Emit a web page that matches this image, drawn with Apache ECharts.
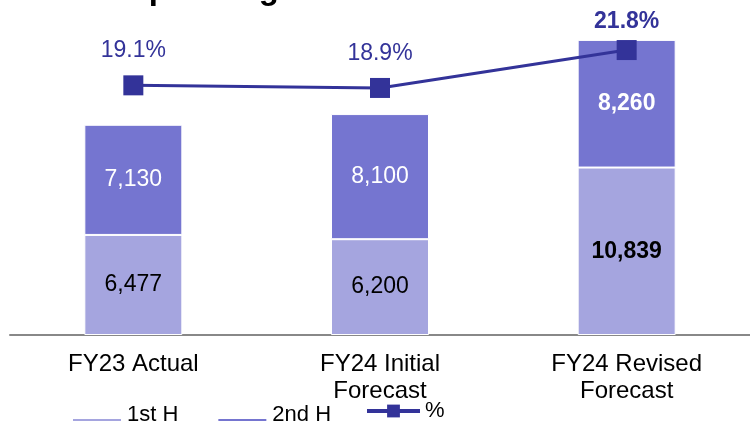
<!DOCTYPE html>
<html>
<head>
<meta charset="utf-8">
<style>
  html, body { margin: 0; padding: 0; background: #fff; }
  #chart { width: 750px; height: 421px; }
</style>
<script src="https://cdn.jsdelivr.net/npm/echarts@6/dist/echarts.min.js"></script>
</head>
<body>
<div id="chart"></div>
<script>
// Operating profit by half-year with margin (%)
const categories = ['FY23 Actual', 'FY24 Initial\nForecast', 'FY24 Revised\nForecast'];
const firstHalf = [6477, 6200, 10839];
const secondHalf = [7130, 8100, 8260];
const margin = [19.1, 18.9, 21.8];
const boldLast = [false, false, true];

const FONT = "'Liberation Sans', Arial, sans-serif";
const C_H1 = '#A5A5DF';
const C_H2 = '#7575D0';
const C_LINE = '#333399';

// swatch drawn in the lower part of its legend box (tiny top mark keeps the box height)
const LOW_SWATCH = 'path://M0 0h0.5v0.01h-0.5zM0 16h50v10h-50z';

const chart = echarts.init(document.getElementById('chart'), null, { renderer: 'canvas' });

chart.setOption({
  animation: false,
  textStyle: { fontFamily: FONT },
  graphic: [{
    type: 'text',
    left: 123,
    top: -27,
    style: {
      text: 'Operating Profit',
      font: "bold 33px 'Liberation Sans', Arial, sans-serif",
      fill: '#000'
    }
  }],
  grid: { left: 10, right: -4, top: 26, bottom: 86, containLabel: false },
  legend: [
    {
      left: 71,
      top: 401,
      padding: 0,
      itemWidth: 50,
      itemHeight: 26,
      itemGap: 38,
      icon: LOW_SWATCH,
      textStyle: { fontSize: 22, color: '#000', fontFamily: FONT },
      data: ['1st H', '2nd H']
    },
    {
      left: 365,
      top: 400,
      padding: 0,
      itemWidth: 53,
      itemHeight: 16,
      lineStyle: { width: 4 },
      textStyle: { fontSize: 22, color: '#000', fontFamily: FONT },
      data: ['%']
    }
  ],
  xAxis: {
    type: 'category',
    data: categories,
    axisLine: { lineStyle: { color: '#888888', width: 2 } },
    axisTick: { show: false },
    axisLabel: {
      fontSize: 24, color: '#000', lineHeight: 27, margin: 16, fontFamily: FONT,
      interval: 0
    }
  },
  yAxis: [
    { type: 'value', min: 0, max: 20000, show: false },
    { type: 'value', min: 0, max: 23.64, show: false }
  ],
  series: [
    {
      name: '1st H',
      type: 'bar',
      stack: 'op',
      barWidth: 98,
      itemStyle: { color: C_H1, borderColor: '#fff', borderWidth: 1 },
      label: {
        show: true, position: 'inside', fontSize: 23, color: '#000', fontFamily: FONT,
        formatter: p => p.value.toLocaleString('en-US')
      },
      data: firstHalf.map((v, i) => ({
        value: v,
        label: { fontWeight: boldLast[i] ? 'bold' : 'normal' }
      }))
    },
    {
      name: '2nd H',
      type: 'bar',
      stack: 'op',
      barWidth: 98,
      itemStyle: { color: C_H2, borderColor: '#fff', borderWidth: 1 },
      label: {
        show: true, position: 'inside', fontSize: 23, color: '#fff', fontFamily: FONT,
        formatter: p => p.value.toLocaleString('en-US')
      },
      data: secondHalf.map((v, i) => ({
        value: v,
        label: { fontWeight: boldLast[i] ? 'bold' : 'normal' }
      }))
    },
    {
      name: '%',
      type: 'line',
      yAxisIndex: 1,
      symbol: 'rect',
      symbolSize: 20,
      lineStyle: { color: C_LINE, width: 3 },
      itemStyle: { color: C_LINE },
      label: {
        show: true, position: 'top', fontSize: 23, color: C_LINE, fontFamily: FONT,
        formatter: p => p.value.toFixed(1) + '%'
      },
      data: margin.map((v, i) => ({
        value: v,
        label: boldLast[i] ? { fontWeight: 'bold', distance: 7 } : { distance: 13 }
      }))
    }
  ]
});
</script>
</body>
</html>
